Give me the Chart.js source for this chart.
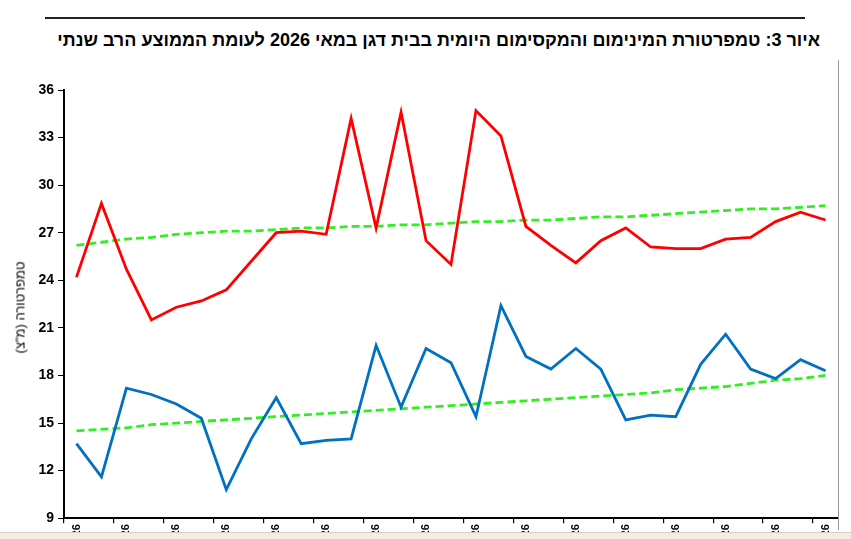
<!DOCTYPE html>
<html><head><meta charset="utf-8">
<script src="https://cdn.jsdelivr.net/npm/chart.js@4"></script>
<style>
html,body{margin:0;padding:0;width:851px;height:539px;overflow:hidden;background:#fff;font-family:Arial,"Liberation Sans",sans-serif}
#hdr{position:absolute;left:45px;top:17px;width:760px;height:1.5px;background:#222}
#title{position:absolute;left:0;top:30px;width:820px;text-align:right;direction:rtl;font-weight:bold;font-size:18px;color:#000}
#ylab{position:absolute;left:0px;top:300px;transform:translate(-40px,0) rotate(-90deg);width:120px;text-align:center;direction:rtl;font-size:13px;color:#000}
#wrap{position:absolute;left:0;top:0;width:851px;height:568px}
#beige{position:absolute;left:0;top:532px;width:851px;height:10px;background:#f3ede2;border-top:1px solid #d8cfc0}
#rframe{position:absolute;left:838px;top:60px;width:1px;height:470px;background:#999}
</style></head><body>
<div id="hdr"></div>
<div id="title">איור 3: טמפרטורת המינימום והמקסימום היומית בבית דגן במאי 2026 לעומת הממוצע הרב שנתי</div>
<div id="wrap"><canvas id="c" width="851" height="568"></canvas></div>
<div id="ylab">טמפרטורה (מ"צ)</div>
<div id="rframe"></div>
<div id="beige"></div>
<script>
const days = ["01/05/26","02/05/26","03/05/26","04/05/26","05/05/26","06/05/26","07/05/26","08/05/26","09/05/26","10/05/26","11/05/26","12/05/26","13/05/26","14/05/26","15/05/26","16/05/26","17/05/26","18/05/26","19/05/26","20/05/26","21/05/26","22/05/26","23/05/26","24/05/26","25/05/26","26/05/26","27/05/26","28/05/26","29/05/26","30/05/26","31/05/26"];
const maxTemp = [24.2,28.85,24.7,21.5,22.3,22.7,23.4,25.2,27.0,27.1,26.9,34.2,27.3,34.6,26.5,25.0,34.7,33.1,27.4,26.2,25.1,26.5,27.3,26.1,26.0,26.0,26.6,26.7,27.7,28.3,27.8];
const minTemp = [13.7,11.6,17.2,16.8,16.2,15.3,10.8,14.0,16.6,13.7,13.9,14.0,19.9,16.0,19.7,18.8,15.4,22.4,19.2,18.4,19.7,18.4,15.2,15.5,15.4,18.7,20.6,18.4,17.8,19.0,18.3];
const maxAvg = [26.2,26.4,26.6,26.7,26.9,27.0,27.1,27.1,27.2,27.3,27.3,27.4,27.4,27.5,27.5,27.6,27.7,27.7,27.8,27.8,27.9,28.0,28.0,28.1,28.2,28.3,28.4,28.5,28.5,28.6,28.7];
const minAvg = [14.5,14.6,14.7,14.9,15.0,15.1,15.2,15.3,15.4,15.5,15.6,15.7,15.8,15.9,16.0,16.1,16.2,16.3,16.4,16.5,16.6,16.7,16.8,16.9,17.1,17.2,17.3,17.5,17.7,17.8,18.0];
const yTicks = [9,12,15,18,21,24,27,30,33,36];

const base = {pointRadius:0,fill:false,tension:0};
new Chart(document.getElementById('c'),{
 type:'line',
 data:{labels:days,datasets:[
  {...base,data:maxTemp,borderColor:'#ff0000',borderWidth:2.8},
  {...base,data:minTemp,borderColor:'#0070c0',borderWidth:2.8},
  {...base,data:maxAvg,borderColor:'#33ee22',borderWidth:2.8,borderDash:[8,4]},
  {...base,data:minAvg,borderColor:'#33ee22',borderWidth:2.8,borderDash:[8,4]}
 ]},
 options:{responsive:false,animation:false,
  layout:{padding:{left:10,right:13,top:90,bottom:0}},
  plugins:{legend:{display:false},tooltip:{enabled:false}},
  scales:{
   x:{offset:true,
      grid:{offset:true,drawOnChartArea:false,tickLength:5,
        color:c=>(c.index%2===0?'#000':'rgba(0,0,0,0)'),lineWidth:1.2},
      border:{color:'#000',width:2},
      ticks:{autoSkip:false,padding:1,maxRotation:90,minRotation:90,color:'#000',font:{size:11,weight:'bold',family:'Arial'},
        callback:(v,i)=>(i%2===0?days[i]:'')}},
   y:{min:9,max:36,afterBuildTicks:a=>{a.ticks=yTicks.map(v=>({value:v}));},
      grid:{drawOnChartArea:false,tickLength:6,color:'#000'},
      border:{color:'#000',width:2},
      ticks:{color:'#000',padding:4,font:{size:14,weight:'bold',family:'Arial'}},
      afterFit:a=>{a.width=54;}}
  }}
});
</script></body></html>
